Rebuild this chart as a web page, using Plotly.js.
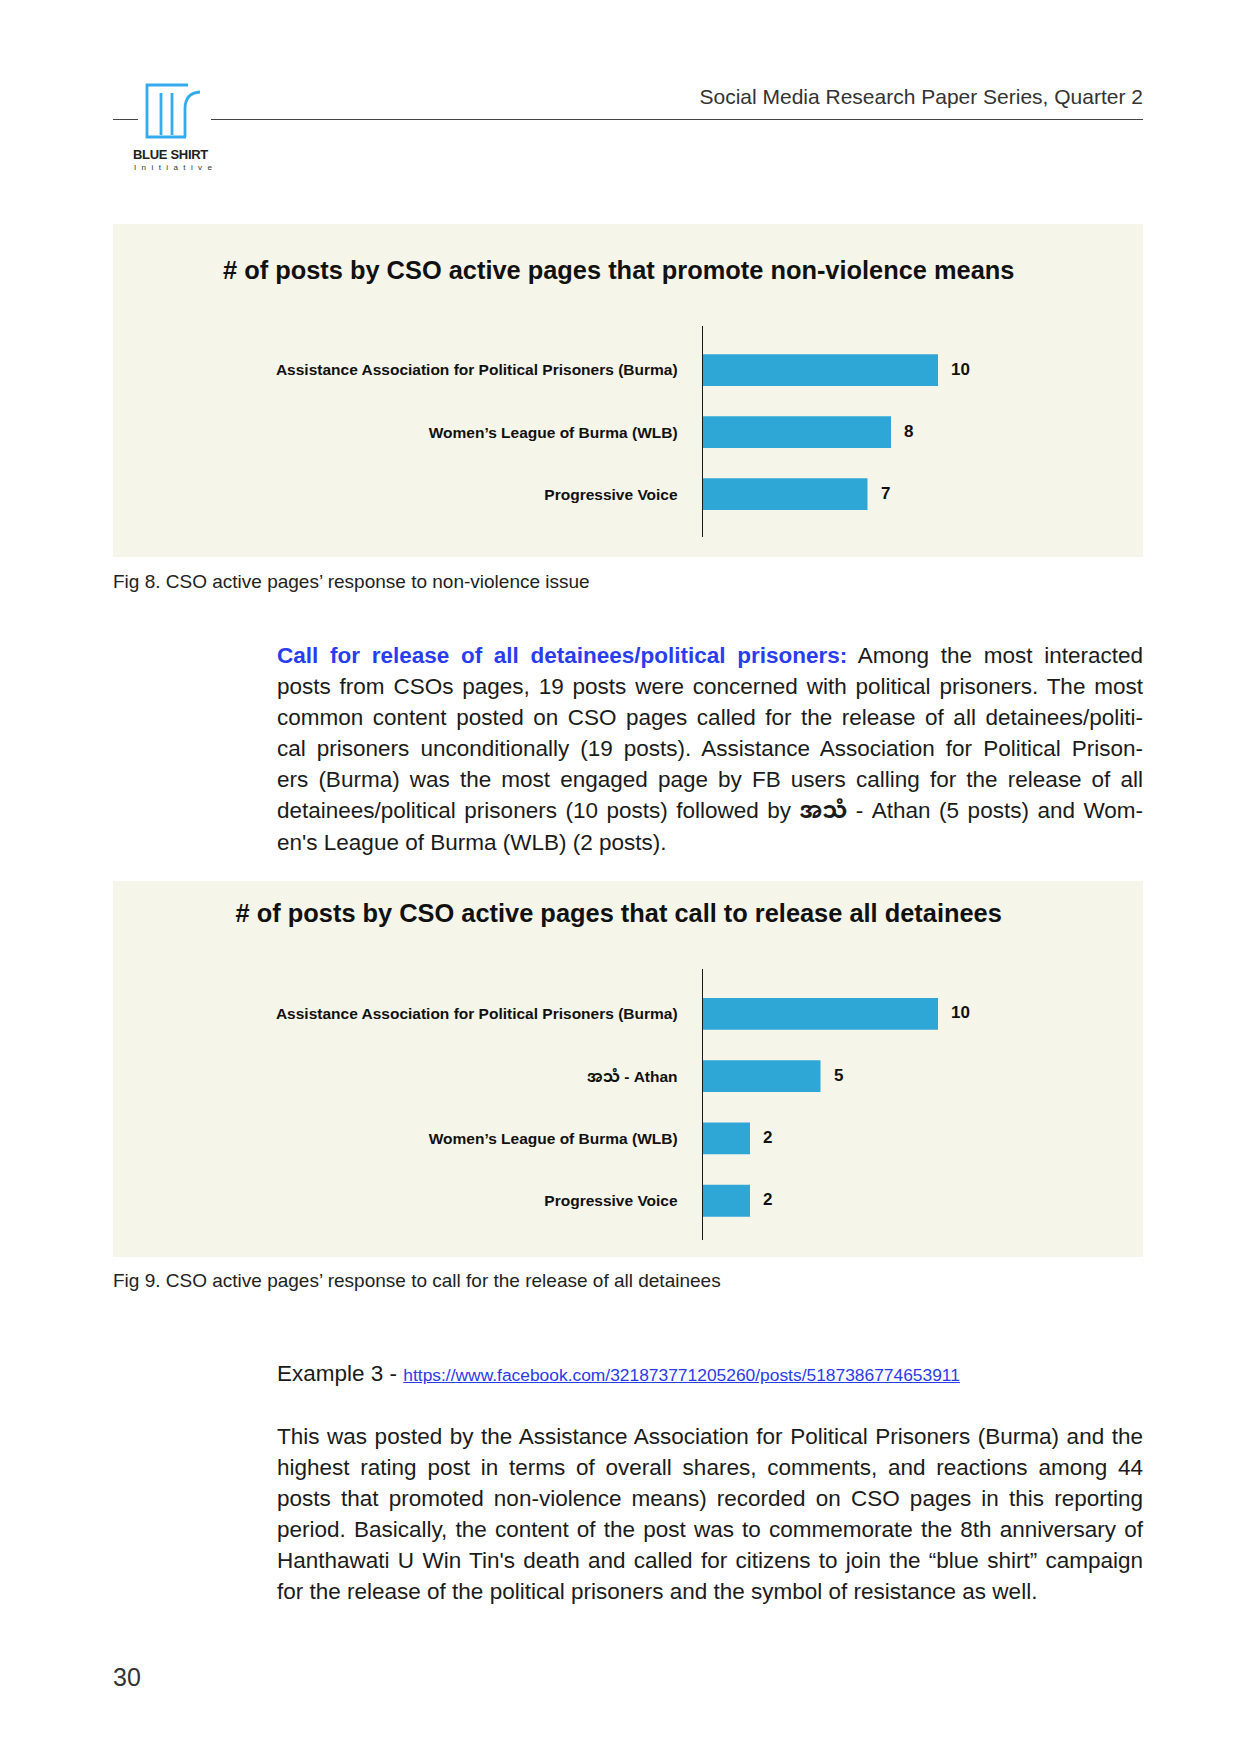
<!DOCTYPE html>
<html>
<head>
<meta charset="utf-8">
<script src="https://cdn.plot.ly/plotly-3.0.1.min.js"></script>
<style>
  html, body { margin:0; padding:0; background:#fff; }
  body { width:1257px; height:1754px; position:relative; overflow:hidden;
         font-family:"Liberation Sans", Arial, "Noto Sans Myanmar", "Noto Sans", sans-serif; color:#1b1b1b; }
  .abs { position:absolute; }
  .hdr { right:114px; top:85px; font-size:21px; line-height:24px; color:#333; white-space:nowrap; }
  .rule { height:1.3px; background:#444; top:119px; }
  .cap { left:113px; font-size:19px; line-height:22px; color:#222; white-space:nowrap; }
  .para { left:277px; width:866px; font-size:22.5px; line-height:31.1px; }
  .jl { text-align:justify; text-align-last:justify; white-space:nowrap; }
  .ll { text-align:left; white-space:nowrap; }
  .lead { color:#2a3cf0; font-weight:bold; }
  .link { color:#2b3be8; text-decoration:underline; font-size:17.4px; }
  .my { font-weight:bold; }
</style>
</head>
<body>

<!-- header -->
<svg class="abs" style="left:0;top:0" width="260" height="200" viewBox="0 0 260 200">
  <g fill="none" stroke="#33acef" stroke-width="2.8">
    <path d="M188,85 L147,85 L147,137 L186,137"/>
    <path d="M161,93 L161,135"/>
    <path d="M172,93 L172,135"/>
    <path d="M185,137 L185,109 Q185,93 200,92"/>
  </g>
</svg>
<div class="abs" style="left:133px;top:147px;font-size:13px;line-height:15px;font-weight:bold;color:#222;letter-spacing:-0.3px;">BLUE SHIRT</div>
<div class="abs" style="left:134px;top:163px;font-size:8px;line-height:10px;color:#333;letter-spacing:5.4px;">Initiative</div>
<div class="abs hdr">Social Media Research Paper Series, Quarter 2</div>
<div class="abs rule" style="left:113px;width:25px;"></div>
<div class="abs rule" style="left:211px;width:932px;"></div>

<!-- chart 1 -->
<div id="chart1" class="abs" style="left:113px;top:224px;width:1030px;height:333px;"></div>
<div class="abs cap" style="top:571px;">Fig 8. CSO active pages’ response to non-violence issue</div>

<!-- paragraph 1 -->
<div class="abs para" style="top:640px;">
  <div class="jl"><span><span class="lead">Call for release of all detainees/political prisoners:</span> Among the most interacted</span></div>
  <div class="jl"><span>posts from CSOs pages, 19 posts were concerned with political prisoners. The most</span></div>
  <div class="jl"><span>common content posted on CSO pages called for the release of all detainees/politi-</span></div>
  <div class="jl"><span>cal prisoners unconditionally (19 posts). Assistance Association for Political Prison-</span></div>
  <div class="jl"><span>ers (Burma) was the most engaged page by FB users calling for the release of all</span></div>
  <div class="jl"><span>detainees/political prisoners (10 posts) followed by <span class="my">အသံ</span> - Athan (5 posts) and Wom-</span></div>
  <div class="ll"><span>en's League of Burma (WLB) (2 posts).</span></div>
</div>

<!-- chart 2 -->
<div id="chart2" class="abs" style="left:113px;top:881px;width:1030px;height:376px;"></div>
<div class="abs cap" style="top:1270px;">Fig 9. CSO active pages’ response to call for the release of all detainees</div>

<!-- example -->
<div class="abs para" style="top:1358px;">
  <div class="ll"><span>Example 3 - <span class="link">https://www.facebook.com/321873771205260/posts/5187386774653911</span></span></div>
</div>

<!-- paragraph 2 -->
<div class="abs para" style="top:1421px;line-height:31px;">
  <div class="jl"><span>This was posted by the Assistance Association for Political Prisoners (Burma) and the</span></div>
  <div class="jl"><span>highest rating post in terms of overall shares, comments, and reactions among 44</span></div>
  <div class="jl"><span>posts that promoted non-violence means) recorded on CSO pages in this reporting</span></div>
  <div class="jl"><span>period. Basically, the content of the post was to commemorate the 8th anniversary of</span></div>
  <div class="jl"><span>Hanthawati U Win Tin's death and called for citizens to join the “blue shirt” campaign</span></div>
  <div class="ll"><span>for the release of the political prisoners and the symbol of resistance as well.</span></div>
</div>

<div class="abs" style="left:113px;top:1663px;font-size:25px;line-height:28px;color:#333;">30</div>

<script>
// ---------------- data ----------------
const chart1Title = '# of posts by CSO active pages that promote non-violence means';
const chart1Categories = ['Assistance Association for Political Prisoners (Burma)', 'Women’s League of Burma (WLB)', 'Progressive Voice'];
const chart1Values = [10, 8, 7];

const chart2Title = '# of posts by CSO active pages that call to release all detainees';
const chart2Categories = ['Assistance Association for Political Prisoners (Burma)', 'အသံ - Athan', 'Women’s League of Burma (WLB)', 'Progressive Voice'];
const chart2Values = [10, 5, 2, 2];

// ---------------- styles ----------------
const FONT = '"Liberation Sans", Arial, "Noto Sans Myanmar", sans-serif';
const BG = '#f6f5ea';
const BAR = '#2ea7d7';

function makeChart(id, title, cats, vals, yRange, height, titleY, mt, mb) {
  const trace = {
    type: 'bar', orientation: 'h',
    x: vals, y: cats,
    marker: { color: BAR, line: { width: 0 } },
    hoverinfo: 'skip'
  };
  const annotations = vals.map((v, i) => ({
    x: v, y: cats[i], xref: 'x', yref: 'y',
    text: String(v), showarrow: false,
    xanchor: 'left', yanchor: 'middle', xshift: 11, yshift: 1,
    font: { family: FONT, size: 17, color: '#111', weight: 'bold' }
  }));
  const layout = {
    width: 1030, height: height,
    paper_bgcolor: BG, plot_bgcolor: BG,
    margin: { l: 590, r: 111, t: mt, b: mb, pad: 0 },
    bargap: 0.49,
    showlegend: false,
    title: {
      text: title, xref: 'container', yref: 'container',
      x: 0.491, xanchor: 'center', y: titleY, yanchor: 'middle',
      font: { family: FONT, size: 25.4, color: '#111', weight: 'bold' }
    },
    xaxis: { range: [0, 14], visible: false, fixedrange: true },
    yaxis: {
      type: 'category', range: yRange,
      showline: true, linecolor: '#1a1a1a', linewidth: 1.3,
      ticks: 'outside', ticklen: 21, tickcolor: 'rgba(0,0,0,0)',
      showgrid: false, zeroline: false,
      tickfont: { family: FONT, size: 15.5, color: '#111', weight: 'bold' }
    },
    annotations: annotations
  };
  Plotly.newPlot(id, [trace], layout, { staticPlot: true, displayModeBar: false });
}

makeChart('chart1', chart1Title, chart1Categories, chart1Values, [2.69, -0.71], 333, 0.862, 102, 20);
makeChart('chart2', chart2Title, chart2Categories, chart2Values, [3.63, -0.72], 376, 0.915, 88, 17);

// fit justified lines that are naturally too wide
document.querySelectorAll('.jl, .ll').forEach(el => {
  const span = el.firstElementChild;
  const target = el.clientWidth;
  const w = span.getBoundingClientRect().width;
  if (w > target) {
    const n = span.textContent.length;
    el.style.letterSpacing = ((target - w - 2) / n) + 'px';
  }
});
</script>
</body>
</html>
